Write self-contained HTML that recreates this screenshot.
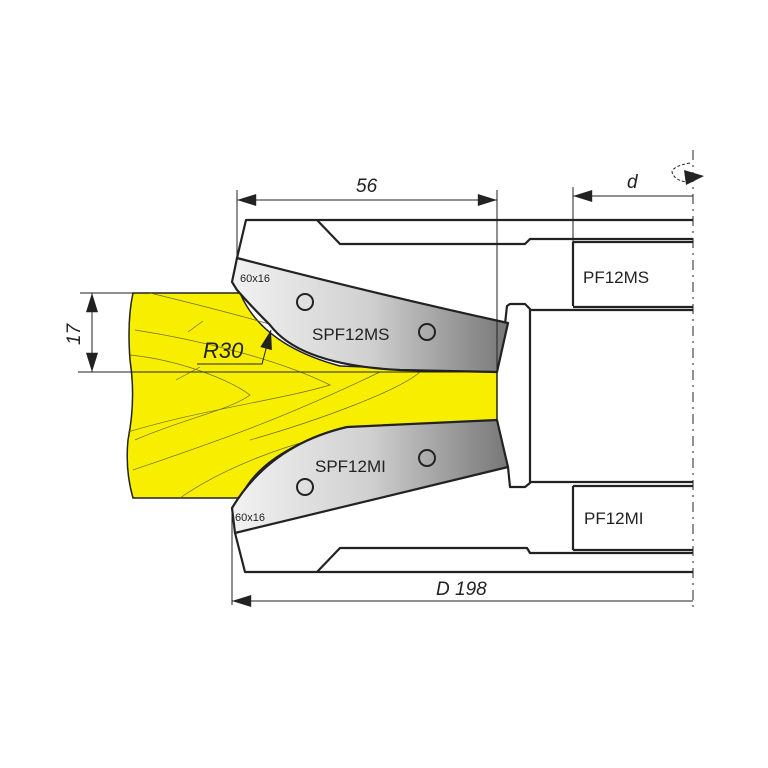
<!DOCTYPE html>
<html><head><meta charset="utf-8"><style>html,body{margin:0;padding:0;background:#fff}svg{display:block}</style></head>
<body>
<svg width="768" height="768" viewBox="0 0 768 768" xmlns="http://www.w3.org/2000/svg" font-family="Liberation Sans, sans-serif">
<defs>
<linearGradient id="g" x1="0" y1="0" x2="1" y2="0">
<stop offset="0" stop-color="#f2f2f2"/><stop offset="0.5" stop-color="#d0d0d0"/><stop offset="1" stop-color="#777"/>
</linearGradient>
<marker id="b" viewBox="0 0 16 10" refX="16" refY="5" markerWidth="22" markerHeight="12" orient="auto-start-reverse" markerUnits="userSpaceOnUse"><path d="M0,0 L16,5 L0,10 z" fill="#222"/></marker>
</defs>

<!-- wood -->
<path d="M133,293 L240,293 Q262,345 340,366 L497,372 L497,420 L347,427 Q262,450 240,498 L133,498 Q125,470 128,440 Q136,400 130,360 Q127,320 133,293 Z" fill="#f8ef00" stroke="#222" stroke-width="1.5"/>
<g fill="none" stroke="#6b6a20" stroke-width="0.7">
<path d="M135,330 C200,340 280,360 330,385 C280,400 200,410 128,432"/>
<path d="M130,355 C180,360 230,380 250,395 C230,410 180,420 135,440"/>
<path d="M150,293 C220,310 300,330 420,372 C400,390 320,420 250,440"/>
<path d="M133,470 C220,440 280,420 380,372"/>
<path d="M180,498 C220,470 290,440 360,430"/>
<path d="M188,332 L203,321 M176,380 L200,367"/>
</g>
<line x1="78" y1="372" x2="497" y2="372" stroke="#222" stroke-width="1"/>

<!-- body outlines -->
<g fill="none" stroke="#222" stroke-width="2.2" stroke-linejoin="round">
<path d="M237,258 L246,220 L693,220"/>
<path d="M317,220 L340,244 L525,244 L530,239 L693,239"/>
<path d="M573,242 L693,242 M573,242 L573,306 M573,307 L693,307"/>
<path d="M505,324 L507,306 L510,304 L525,304 L530,309 L530,483 L525,487 L510,487 L508,467"/>
<path d="M530,310 L693,310 M530,482 L693,482"/>
<path d="M235,533 L245,572 L693,572"/>
<path d="M317,572 L340,548 L527,548 L530,553 L693,553"/>
<path d="M573,486 L693,486 M573,486 L573,550 M573,550 L693,550"/>
</g>

<!-- knives -->
<path d="M237,258 Q380,295 508,323 L497,372 L400,370 Q300,365 270,325 Q250,305 237,290 L232,282 Z" fill="url(#g)" stroke="#222" stroke-width="2.2" stroke-linejoin="round"/>
<path d="M497,420 L508,467 L235,533 L232,508 Q270,445 347,427 Z" fill="url(#g)" stroke="#222" stroke-width="2.2" stroke-linejoin="round"/>
<g fill="none" stroke="#222" stroke-width="2">
<circle cx="305" cy="302" r="8"/><circle cx="427" cy="332" r="8"/>
<circle cx="427" cy="458" r="8"/><circle cx="305" cy="487" r="8"/>
</g>
<g fill="#222">
<text x="312" y="340" font-size="17">SPF12MS</text>
<text x="315" y="472" font-size="17">SPF12MI</text>
<text x="240" y="282" font-size="11">60x16</text>
<text x="235" y="521" font-size="11">60x16</text>
<text x="583" y="283" font-size="17">PF12MS</text>
<text x="584" y="524" font-size="17">PF12MI</text>
</g>

<!-- dimensions -->
<g stroke="#222" stroke-width="1" fill="none">
<line x1="237" y1="190" x2="237" y2="258"/>
<line x1="497" y1="190" x2="497" y2="372"/>
<line x1="237" y1="200" x2="497" y2="200" marker-start="url(#b)" marker-end="url(#b)"/>
<line x1="573" y1="187" x2="573" y2="242"/>
<line x1="573" y1="196" x2="693" y2="196" marker-start="url(#b)"/>
<line x1="693" y1="150" x2="693" y2="610" stroke-dasharray="10,5,2,5"/>
<line x1="232" y1="508" x2="232" y2="605"/>
<line x1="232" y1="601" x2="693" y2="601" marker-start="url(#b)"/>
<line x1="80" y1="293" x2="133" y2="293"/>
<line x1="78" y1="372" x2="133" y2="372"/>
<line x1="92" y1="293" x2="92" y2="372" marker-start="url(#b)" marker-end="url(#b)"/>
<path d="M197,364 L262,364 L271,330" marker-end="url(#b)"/>
<path d="M690,163 Q673,166 672,172 Q674,180 686,182" stroke-dasharray="3,2"/>
</g>
<path d="M684,170 L704,176 L686,185 Z" fill="#222"/>
<g fill="#222" font-style="italic" font-size="19">
<text x="356" y="192">56</text>
<text x="627" y="188">d</text>
<text x="436" y="595">D 198</text>
<text x="203" y="358" font-size="22">R30</text>
<text transform="translate(80,345) rotate(-90)" font-size="19">17</text>
</g>
</svg>
</body></html>
